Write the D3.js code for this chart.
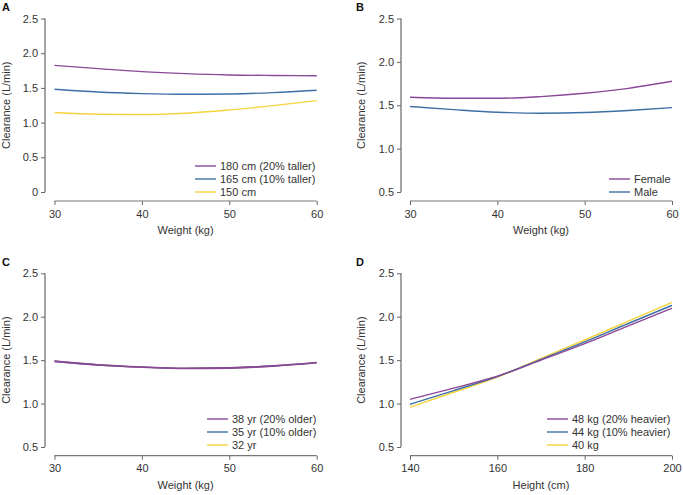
<!DOCTYPE html>
<html><head><meta charset="utf-8">
<script src="https://cdn.jsdelivr.net/npm/d3@7"></script>
<style>
html,body{margin:0;padding:0;background:#fff;}
svg{display:block;font-family:Arial,"Liberation Sans",Helvetica,sans-serif;}
</style></head>
<body>
<svg id="chart" width="683" height="495"></svg>
<script>
// ---- data ----
const weights = [30, 35, 40, 45, 50, 55, 60];
const heights = [140, 150, 160, 170, 180, 190, 200];

// Panel A: by height
const a180 = [1.825, 1.777, 1.734, 1.705, 1.686, 1.679, 1.676];
const a165 = [1.480, 1.440, 1.418, 1.408, 1.413, 1.432, 1.466];
const a150 = [1.145, 1.120, 1.116, 1.135, 1.183, 1.245, 1.317];

// Panel B: by sex
const bFemale = [1.592, 1.580, 1.580, 1.600, 1.638, 1.695, 1.776];
const bMale   = [1.485, 1.450, 1.420, 1.408, 1.416, 1.440, 1.473];

// Panel C: by age
const c38 = [1.487, 1.445, 1.420, 1.405, 1.410, 1.432, 1.471];
const c35 = [1.487, 1.445, 1.420, 1.405, 1.410, 1.432, 1.471];
const c32 = [1.487, 1.445, 1.420, 1.405, 1.410, 1.432, 1.471];

// Panel D: by weight, x = height
const d48 = [1.049, 1.178, 1.315, 1.500, 1.690, 1.895, 2.097];
const d44 = [0.992, 1.150, 1.310, 1.510, 1.710, 1.922, 2.131];
const d40 = [0.958, 1.130, 1.305, 1.520, 1.732, 1.950, 2.166];

const weightTicks = [30, 40, 50, 60];
const heightTicks = [140, 160, 180, 200];
const yTicksA = [0, 0.5, 1.0, 1.5, 2.0, 2.5];
const yTicksB = [0.5, 1.0, 1.5, 2.0, 2.5];

const labelsA = ["180 cm (20% taller)", "165 cm (10% taller)", "150 cm"];
const labelsB = ["Female", "Male"];
const labelsC = ["38 yr (20% older)", "35 yr (10% older)", "32 yr"];
const labelsD = ["48 kg (20% heavier)", "44 kg (10% heavier)", "40 kg"];

const PURPLE = "#8a4898", BLUE = "#3d6fa4", YELLOW = "#f4d43c";

// ---- drawing ----
const svg = d3.select("#chart");

function panel(cfg) {
  const g = svg.append("g");
  const x = d3.scaleLinear().domain(cfg.xDomain).range(cfg.xRange);
  const y = d3.scaleLinear().domain(cfg.yDomain).range(cfg.yRange);

  // y axis
  const ya = g.append("g").attr("transform", `translate(${cfg.yAxisX},0)`)
    .call(d3.axisLeft(y).tickValues(cfg.yTicks).tickSize(4).tickPadding(3)
      .tickFormat(d => d === 0 ? "0" : d.toFixed(1)));
  ya.select(".domain").attr("d", `M0,${y(cfg.yDomain[1])}V${y(cfg.yDomain[0])}`)
    .attr("stroke", "#9a9a9a").attr("stroke-width", 1.8);
  ya.selectAll(".tick line").attr("stroke", "#666");
  ya.selectAll(".tick text").attr("fill", "#333").style("font-size", "11px");

  // x axis
  const xa = g.append("g").attr("transform", `translate(0,${cfg.xAxisY})`)
    .call(d3.axisBottom(x).tickValues(cfg.xTicks).tickSize(4).tickPadding(5));
  xa.select(".domain").attr("d", `M${x(cfg.xDomain[0])},0H${x(cfg.xDomain[1])}`)
    .attr("stroke", "#777").attr("stroke-width", 1.2);
  xa.selectAll(".tick line").attr("stroke", "#666");
  xa.selectAll(".tick text").attr("fill", "#333").style("font-size", "11px");

  // titles
  g.append("text").attr("x", d3.mean(cfg.xRange)).attr("y", cfg.xAxisY + 33)
    .attr("text-anchor", "middle").attr("fill", "#333").style("font-size", "11px")
    .text(cfg.xTitle);
  g.append("text")
    .attr("transform", `translate(${cfg.yTitleX},${d3.mean(cfg.yRange)}) rotate(-90)`)
    .attr("text-anchor", "middle").attr("fill", "#333").style("font-size", "11px")
    .text("Clearance (L/min)");
  g.append("text").attr("x", cfg.labelX).attr("y", cfg.labelY)
    .attr("fill", "#111").style("font-size", "11px").style("font-weight", "bold")
    .text(cfg.label);

  // lines (draw in reverse so first series on top)
  const line = d3.line().x(d => x(d[0])).y(d => y(d[1])).curve(d3.curveMonotoneX);
  const n = cfg.series.length;
  cfg.series.slice().reverse().forEach((s, k) => {
    const top = k === n - 1;
    g.append("path").datum(cfg.xs.map((v, i) => [v, s.values[i]]))
      .attr("d", line).attr("fill", "none").attr("stroke", s.color)
      .attr("stroke-width", (cfg.overlap && top) ? 1.9 : 1.4);
  });

  // legend
  cfg.series.forEach((s, i) => {
    const ly = cfg.legendY + i * 13;
    g.append("line").attr("x1", cfg.legendX).attr("x2", cfg.legendX + 21)
      .attr("y1", ly).attr("y2", ly).attr("stroke", s.color).attr("stroke-width", 1.4);
    g.append("text").attr("x", cfg.legendX + 25).attr("y", ly + 4)
      .attr("fill", "#333").style("font-size", "11px").text(s.label);
  });
}

panel({
  label: "A", labelX: 2, labelY: 11,
  xs: weights, xDomain: [30, 60], xRange: [54.5, 316.7], xTicks: weightTicks,
  yDomain: [0, 2.5], yRange: [192, 18.5], yTicks: yTicksA,
  yAxisX: 45, xAxisY: 201, yTitleX: 10, xTitle: "Weight (kg)",
  legendX: 195, legendY: 166,
  series: [
    {label: labelsA[0], values: a180, color: PURPLE},
    {label: labelsA[1], values: a165, color: BLUE},
    {label: labelsA[2], values: a150, color: YELLOW}
  ]
});

panel({
  label: "B", labelX: 356, labelY: 11,
  xs: weights, xDomain: [30, 60], xRange: [410, 672], xTicks: weightTicks,
  yDomain: [0.5, 2.5], yRange: [192, 18.5], yTicks: yTicksB,
  yAxisX: 401, xAxisY: 201, yTitleX: 365, xTitle: "Weight (kg)",
  legendX: 609, legendY: 179,
  series: [
    {label: labelsB[0], values: bFemale, color: PURPLE},
    {label: labelsB[1], values: bMale, color: BLUE}
  ]
});

panel({
  label: "C", labelX: 2, labelY: 266, overlap: true,
  xs: weights, xDomain: [30, 60], xRange: [54.5, 316.7], xTicks: weightTicks,
  yDomain: [0.5, 2.5], yRange: [447, 273.3], yTicks: yTicksB,
  yAxisX: 45, xAxisY: 455.7, yTitleX: 10, xTitle: "Weight (kg)",
  legendX: 207, legendY: 419,
  series: [
    {label: labelsC[0], values: c38, color: PURPLE},
    {label: labelsC[1], values: c35, color: BLUE},
    {label: labelsC[2], values: c32, color: YELLOW}
  ]
});

panel({
  label: "D", labelX: 356, labelY: 266,
  xs: heights, xDomain: [140, 200], xRange: [410, 672], xTicks: heightTicks,
  yDomain: [0.5, 2.5], yRange: [447, 273.3], yTicks: yTicksB,
  yAxisX: 401, xAxisY: 455.7, yTitleX: 365, xTitle: "Height (cm)",
  legendX: 547, legendY: 419,
  series: [
    {label: labelsD[0], values: d48, color: PURPLE},
    {label: labelsD[1], values: d44, color: BLUE},
    {label: labelsD[2], values: d40, color: YELLOW}
  ]
});
</script>
</body></html>
